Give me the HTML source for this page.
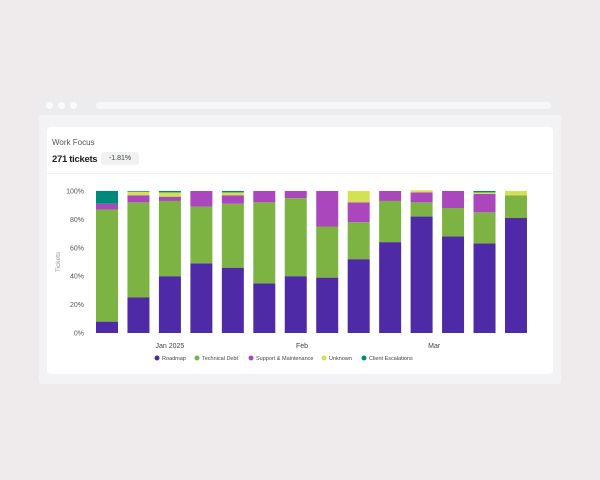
<!DOCTYPE html>
<html><head><meta charset="utf-8"><style>
body{margin:0;width:600px;height:480px;background:#efeaeb;font-family:"Liberation Sans",sans-serif;position:relative;overflow:hidden}
.frame{position:absolute;left:39px;top:97px;width:522px;height:287px;background:#f3f2f4;border-radius:4px}
.bar{position:absolute;left:0;top:0;width:522px;height:18px;background:#ecebee;border-radius:4px 4px 0 0}
.dot{position:absolute;top:5px;width:7px;height:7px;border-radius:50%;background:#fafafb}
.url{position:absolute;left:57px;top:5px;width:455px;height:7px;border-radius:4px;background:#f7f7f8}
.card{position:absolute;left:8px;top:30px;width:506px;height:247px;background:#fff;border-radius:4px}
.t1{position:absolute;left:5px;top:11px;font-size:8px;color:#555}
.t2{position:absolute;left:5px;top:27px;font-size:9.5px;font-weight:bold;color:#222;letter-spacing:-0.3px}
.pill{position:absolute;left:54px;top:25px;width:38px;height:13px;background:#f0f1f3;border-radius:3px;font-size:7px;color:#444;text-align:center;line-height:13px}
.hr{position:absolute;left:0;top:46px;width:506px;height:1px;background:#f0f0f2}
svg{position:absolute;left:0;top:0}
</style></head><body>
<div class="frame">
<div class="bar">
<div class="dot" style="left:7px"></div>
<div class="dot" style="left:19px"></div>
<div class="dot" style="left:31px"></div>
<div class="url"></div>
</div>
<div class="card">
<div class="t1">Work Focus</div>
<div class="t2">271 tickets</div>
<div class="pill">-1.81%</div>
<div class="hr"></div>
</div>
</div>
<svg id="chart" width="600" height="480"></svg>
<script>
const categories=["W1","W2","W3","W4","W5","W6","W7","W8","W9","W10","W11","W12","W13","W14"];
const seriesNames=["Roadmap","Technical Debt","Support & Maintenance","Unknown","Client Escalations"];
const roadmap=[8,25,40,49,46,35,40,39,52,64,82,68,63,81];
const techDebt=[79,67,53,40,45,57,55,36,26,29,10,20,22,16];
const support=[4,5,3,11,6,8,5,25,14,7,7,12,13,0];
const unknown=[0,2.5,3,0,2,0,0,0,8,0,1.5,0,1,3];
const client=[9,0.5,1,0,1,0,0,0,0,0,0,0,1,0];
const yTicks=[0,20,40,60,80,100];
const xLabels=["Jan 2025","Feb","Mar"];
const xLabelPos=[2,6.2,10.4];
const colors=["#4f2aa6","#7cb342","#ab47bc","#d4e157","#00897b"];
const series=[roadmap,techDebt,support,unknown,client];
const svg=document.getElementById('chart');
const NS='http://www.w3.org/2000/svg';
const x0=96,step=31.46,bw=22,yTop=191,yBot=333;
const y=v=>yBot-(v/100)*(yBot-yTop);
const xs=i=>x0+i*step;
function mk(t,a){const e=document.createElementNS(NS,t);for(const k in a)e.setAttribute(k,a[k]);svg.appendChild(e);return e;}
yTicks.forEach(t=>{const e=mk('text',{x:84,y:y(t)+2.5,'text-anchor':'end','font-size':7,fill:'#555','font-family':'Liberation Sans'});e.textContent=t+'%';

});
const yt=mk('text',{x:0,y:0,transform:'translate(60,262) rotate(-90)','text-anchor':'middle','font-size':6.5,fill:'#999','font-family':'Liberation Sans'});yt.textContent='Tickets';


categories.forEach((c,i)=>{let acc=0;series.forEach((s,k)=>{const v=s[i];if(v>0){const r=mk('rect',{x:xs(i),y:y(acc+v),width:bw,height:y(acc)-y(acc+v),fill:colors[k]});

}acc+=v;});});
xLabels.forEach((l,i)=>{const e=mk('text',{x:xs(xLabelPos[i])+bw/2,y:348,'text-anchor':'middle','font-size':7,fill:'#444','font-family':'Liberation Sans'});e.textContent=l;

});
const legX=[157,197,251,324,364];
seriesNames.forEach((n,k)=>{const g=document.createElementNS(NS,'g');svg.appendChild(g);


const c=document.createElementNS(NS,'circle');c.setAttribute('cx',legX[k]);c.setAttribute('cy',358);c.setAttribute('r',2.5);c.setAttribute('fill',colors[k]);g.appendChild(c);
const t=document.createElementNS(NS,'text');t.setAttribute('x',legX[k]+5);t.setAttribute('y',360);t.setAttribute('font-size',5.5);t.setAttribute('fill','#444');t.setAttribute('font-family','Liberation Sans');t.textContent=n;g.appendChild(t);});
</script>
</body></html>
